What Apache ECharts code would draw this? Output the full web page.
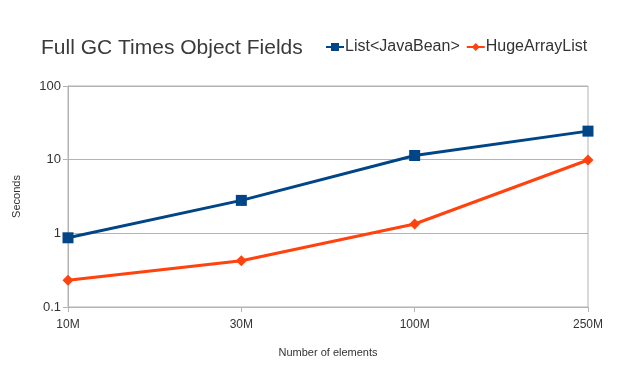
<!DOCTYPE html>
<html><head><meta charset="utf-8">
<script src="https://cdn.jsdelivr.net/npm/echarts@6/dist/echarts.min.js"></script>
<style>html,body{margin:0;padding:0;background:#fff}#c{width:622px;height:370px}</style>
</head><body><div id="c"></div>
<script>
const categories = ['10M', '30M', '100M', '250M'];
const listJavaBean = [0.87, 2.8, 11.4, 24.4];
const hugeArrayList = [0.23, 0.425, 1.34, 9.9];
const yTicks = [0.1, 1, 10, 100];

const chart = echarts.init(document.getElementById('c'), null, {renderer: 'canvas'});
const font = 'Liberation Sans, Arial, sans-serif';
chart.setOption({
  animation: false,
  backgroundColor: '#fff',
  title: {
    text: 'Full GC Times Object Fields',
    left: 36, top: 33,
    textStyle: {fontFamily: font, fontSize: 21, fontWeight: 'normal', color: '#3a3a3a'}
  },
  legend: {
    left: 320, top: 34,
    itemWidth: 18, itemHeight: 10, itemGap: 6,
    textStyle: {fontFamily: font, fontSize: 16, color: '#333', padding: [0,0,0,-4]},
    data: ['List<JavaBean>', 'HugeArrayList']
  },
  grid: {left: 68, right: 34, top: 86, bottom: 63, containLabel: false,
    show: true, borderColor: '#b3b3b3', borderWidth: 1},
  xAxis: {
    type: 'category', data: categories, boundaryGap: false,
    name: 'Number of elements', nameLocation: 'middle', nameGap: 40,
    nameTextStyle: {fontFamily: font, fontSize: 11, color: '#333'},
    axisLine: {lineStyle: {color: '#b3b3b3'}},
    axisTick: {show: true, alignWithLabel: true, length: 5, lineStyle: {color: '#b3b3b3'}},
    axisLabel: {fontFamily: font, fontSize: 12, color: '#333', margin: 12},
    splitLine: {show: false}
  },
  yAxis: {
    type: 'log', logBase: 10, min: yTicks[0], max: yTicks[yTicks.length - 1],
    name: 'Seconds', nameLocation: 'middle', nameGap: 46,
    nameTextStyle: {fontFamily: font, fontSize: 11, color: '#333'},
    axisLine: {show: true, lineStyle: {color: '#b3b3b3'}},
    axisTick: {show: true, length: 5, lineStyle: {color: '#b3b3b3'}},
    axisLabel: {fontFamily: font, fontSize: 13, color: '#333', margin: 7,
      formatter: v => String(+v.toPrecision(3))},
    splitLine: {show: true, lineStyle: {color: '#b3b3b3'}}
  },
  series: [
    {
      name: 'List<JavaBean>', type: 'line', data: listJavaBean,
      symbol: 'rect', symbolSize: 11,
      lineStyle: {width: 3, color: '#004586'},
      itemStyle: {color: '#004586'}
    },
    {
      name: 'HugeArrayList', type: 'line', data: hugeArrayList,
      symbol: 'diamond', symbolSize: 11,
      lineStyle: {width: 3, color: '#ff420e'},
      itemStyle: {color: '#ff420e'}
    }
  ]
});
</script></body></html>
